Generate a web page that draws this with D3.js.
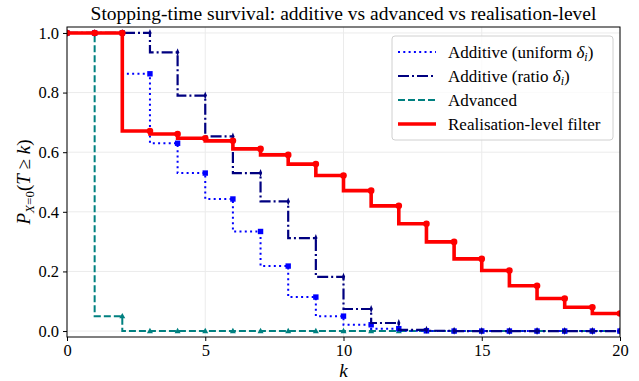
<!DOCTYPE html>
<html>
<head>
<meta charset="utf-8">
<script src="https://cdn.jsdelivr.net/npm/d3@7"></script>
<style>
  body { margin: 0; background: #fff; }
</style>
</head>
<body>
<div id="main"></div>
<script>
const ctx = {
    w: 639,
    h: 381,
    left: 67,
    right: 620,
    top: 27,
    bottom: 337,
    GRID: "#ebebeb",
    FONT: "Liberation Serif",
};

// survival values, one per k
const K_VALUES = d3.range(0, 21);
const UNIFORM = [1, 1, 1, 0.863, 0.63, 0.53, 0.443, 0.334, 0.218, 0.114, 0.05, 0.021, 0.008, 0.001, 0, 0, 0, 0, 0, 0, 0];
const RATIO = [1, 1, 1, 1, 0.935, 0.79, 0.653, 0.53, 0.435, 0.312, 0.182, 0.074, 0.027, 0.004, 0.001, 0, 0, 0, 0, 0, 0];
const ADVANCED = [1, 1, 0.05, 0, 0, 0, 0, 0, 0, 0, 0, 0, 0, 0, 0, 0, 0, 0, 0, 0, 0];
const REALISATION = [1, 1, 1, 0.671, 0.661, 0.647, 0.638, 0.611, 0.591, 0.56, 0.522, 0.471, 0.42, 0.36, 0.299, 0.242, 0.203, 0.152, 0.109, 0.08, 0.059];

const X_TICKS = [0, 5, 10, 15, 20];
const Y_TICKS = [0, 0.2, 0.4, 0.6, 0.8, 1.0];
const TITLE = "Stopping-time survival: additive vs advanced vs realisation-level";

const SERIES = [
    { key: "uniform", values: UNIFORM, color: "#0000ff", width: 2, dash: "2,3.3", marker: "square" },
    { key: "ratio", values: RATIO, color: "#000080", width: 2.2, dash: "11,3,2,3", marker: "thin" },
    { key: "advanced", values: ADVANCED, color: "#008080", width: 2, dash: "7,3", marker: "triangle" },
    { key: "real", values: REALISATION, color: "#ff0000", width: 3.6, dash: null, marker: "circle" },
];
const DRAW_ORDER = ["advanced", "uniform", "ratio", "real"];

function createViz() {
    let svgEl = d3.select("#main").append("svg")
        .attr("width", ctx.w)
        .attr("height", ctx.h)
        .attr("font-family", ctx.FONT);

    let x = d3.scaleLinear().domain([0, 20]).range([ctx.left, ctx.right]);
    let y = d3.scaleLinear().domain([-0.02, 1.02]).range([ctx.bottom, ctx.top]);

    // grid
    let grid = svgEl.append("g");
    grid.selectAll("line.gx").data(X_TICKS).enter().append("line")
        .attr("x1", d => x(d)).attr("x2", d => x(d))
        .attr("y1", ctx.top).attr("y2", ctx.bottom)
        .attr("stroke", ctx.GRID).attr("stroke-width", 1);
    grid.selectAll("line.gy").data(Y_TICKS).enter().append("line")
        .attr("x1", ctx.left).attr("x2", ctx.right)
        .attr("y1", d => y(d)).attr("y2", d => y(d))
        .attr("stroke", ctx.GRID).attr("stroke-width", 1);

    svgEl.append("clipPath").attr("id", "plotClip")
        .append("rect")
        .attr("x", ctx.left).attr("y", ctx.top)
        .attr("width", ctx.right - ctx.left).attr("height", ctx.bottom - ctx.top);

    let plotG = svgEl.append("g").attr("clip-path", "url(#plotClip)");
    let line = d3.line()
        .x((d, i) => x(K_VALUES[i]))
        .y(d => y(d))
        .curve(d3.curveStepBefore);

    DRAW_ORDER.forEach(function (key) {
        let s = SERIES.find(d => d.key == key);
        plotG.append("path")
            .datum(s.values)
            .attr("d", line)
            .attr("fill", "none")
            .attr("stroke", s.color)
            .attr("stroke-width", s.width)
            .attr("stroke-dasharray", s.dash);
        let mG = plotG.append("g");
        s.values.forEach(function (v, i) {
            drawMarker(mG, s, x(K_VALUES[i]), y(v));
        });
    });

    // frame
    svgEl.append("rect")
        .attr("x", ctx.left).attr("y", ctx.top)
        .attr("width", ctx.right - ctx.left).attr("height", ctx.bottom - ctx.top)
        .attr("fill", "none").attr("stroke", "#000").attr("stroke-width", 1);

    // axes
    let xAxis = svgEl.append("g")
        .attr("transform", `translate(0,${ctx.bottom})`)
        .call(d3.axisBottom(x).tickValues(X_TICKS).tickFormat(d3.format("d")).tickSize(4).tickPadding(3));
    let yAxis = svgEl.append("g")
        .attr("transform", `translate(${ctx.left},0)`)
        .call(d3.axisLeft(y).tickValues(Y_TICKS).tickFormat(d3.format(".1f")).tickSize(4).tickPadding(4));
    [xAxis, yAxis].forEach(function (a) {
        a.attr("font-family", ctx.FONT).attr("font-size", 16.5);
        a.select(".domain").remove();
        a.selectAll("line").attr("stroke", "#000");
    });

    // title
    svgEl.append("text")
        .attr("x", (ctx.left + ctx.right) / 2)
        .attr("y", 20)
        .attr("text-anchor", "middle")
        .attr("font-size", 19.5)
        .text(TITLE);

    // x label
    svgEl.append("text")
        .attr("x", (ctx.left + ctx.right) / 2)
        .attr("y", 377)
        .attr("text-anchor", "middle")
        .attr("font-size", 19)
        .attr("font-style", "italic")
        .text("k");

    // y label
    let yl = svgEl.append("text")
        .attr("transform", `translate(30,${(ctx.top + ctx.bottom) / 2}) rotate(-90)`)
        .attr("text-anchor", "middle")
        .attr("font-size", 19);
    yl.append("tspan").attr("font-style", "italic").text("P");
    yl.append("tspan").attr("dy", 4).attr("font-size", 13).attr("font-style", "italic").text("X");
    yl.append("tspan").attr("font-size", 13).text("=0");
    yl.append("tspan").attr("dy", -4).text("(");
    yl.append("tspan").attr("font-style", "italic").text("T");
    yl.append("tspan").text(" \u2265 ");
    yl.append("tspan").attr("font-style", "italic").text("k");
    yl.append("tspan").text(")");

    createLegend(svgEl);
};

function drawMarker(g, s, cx, cy) {
    if (s.marker == "circle") {
        g.append("circle").attr("cx", cx).attr("cy", cy).attr("r", 3.3).attr("fill", s.color);
    } else if (s.marker == "square") {
        g.append("rect").attr("x", cx - 2.7).attr("y", cy - 2.7).attr("width", 5.4).attr("height", 5.4).attr("fill", s.color);
    } else if (s.marker == "triangle") {
        g.append("path").attr("d", `M${cx},${cy - 3.2}L${cx + 3},${cy + 2.2}L${cx - 3},${cy + 2.2}Z`).attr("fill", s.color);
    } else if (s.marker == "thin") {
        g.append("path").attr("d", `M${cx},${cy - 4}L${cx + 1.6},${cy}L${cx},${cy + 4}L${cx - 1.6},${cy}Z`).attr("fill", s.color);
    }
}

function createLegend(svgEl) {
    let lx = 392, ly = 36, lw = 221, lh = 104;
    let lg = svgEl.append("g");
    lg.append("rect")
        .attr("x", lx).attr("y", ly).attr("width", lw).attr("height", lh)
        .attr("rx", 3)
        .attr("fill", "#fff").attr("fill-opacity", 0.8)
        .attr("stroke", "#d0d0d0").attr("stroke-width", 1);
    let rowY = [52, 76, 100, 124];
    SERIES.forEach(function (s, i) {
        lg.append("line")
            .attr("x1", lx + 6).attr("x2", lx + 44)
            .attr("y1", rowY[i]).attr("y2", rowY[i])
            .attr("stroke", s.color)
            .attr("stroke-width", s.width)
            .attr("stroke-dasharray", s.dash);
        let t = lg.append("text")
            .attr("x", lx + 56).attr("y", rowY[i] + 5.5)
            .attr("font-size", 17);
        if (s.key == "uniform" || s.key == "ratio") {
            t.append("tspan").text(s.key == "uniform" ? "Additive (uniform " : "Additive (ratio ");
            t.append("tspan").attr("font-style", "italic").text("\u03b4");
            t.append("tspan").attr("dy", 3).attr("font-size", 12).attr("font-style", "italic").text("i");
            t.append("tspan").attr("dy", -3).text(")");
        } else {
            t.text(s.key == "advanced" ? "Advanced" : "Realisation-level filter");
        }
    });
}

createViz();
</script>
</body>
</html>
